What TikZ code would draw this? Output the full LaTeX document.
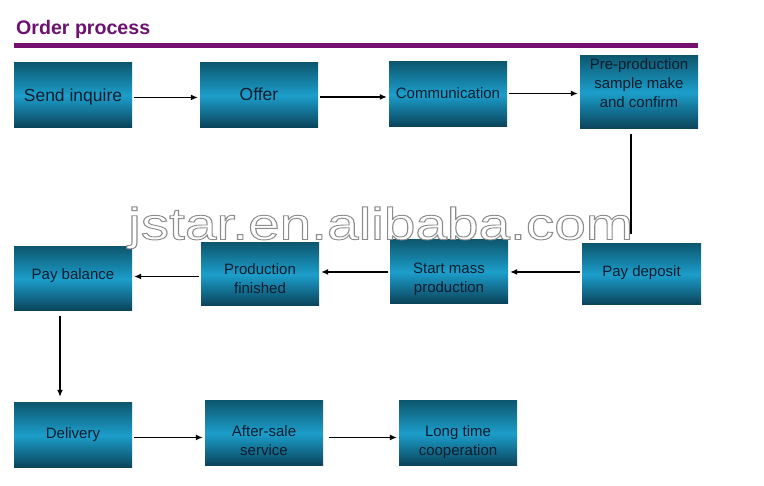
\documentclass[tikz,border=0pt]{standalone}
\usepackage{fontspec}
\setmainfont{Liberation Sans}
\usepackage{graphicx}
\usetikzlibrary{arrows.meta}

\definecolor{boxtop}{HTML}{0D5870}
\definecolor{boxmid}{HTML}{1C9ECB}
\definecolor{boxbot}{HTML}{0A4258}
\definecolor{ttl}{HTML}{6C1170}
\definecolor{rulec}{HTML}{74106F}
\definecolor{txtc}{HTML}{0E1C2C}

\newcommand{\mlines}[1]{\begin{tabular}[t]{@{}c@{}}#1\end{tabular}}

\begin{document}
\begin{tikzpicture}[x=1pt,y=1pt,
  box/.style={minimum width=118pt, minimum height=65pt, inner sep=0pt, draw=none,
    top color=boxtop, bottom color=boxbot, middle color=boxmid},
  txt/.style={anchor=base, inner sep=0pt, text=txtc, font=\fontsize{15}{19}\selectfont},
  bigtxt/.style={txt, font=\fontsize{17.5}{21}\selectfont},
  conn/.style={line width=1.2pt, black, shorten <=2pt, shorten >=2pt},
  arr/.style={conn, -{Latex[length=7pt,width=6pt]}},
]
\useasboundingbox (0,0) rectangle (764,486);
\fill[white] (0,0) rectangle (764,486);

% title and rule
\node[anchor=base west, inner sep=0pt, text=ttl, font=\fontsize{19.6}{24}\selectfont\bfseries] (title) at (16,451.7) {Order process};
\draw[rulec, line width=4.5pt] (14,440.5) -- (698,440.5);

% row 1
\node[box] (si) at (73,390.5) {};
\node[bigtxt] (si-t) at ([yshift=-6.2pt]si.center) {Send inquire};
\node[box] (of) at (259,390.5) {};
\node[bigtxt] (of-t) at ([yshift=-5.5pt]of.center) {Offer};
\node[box] (co) at (448,391.5) {};
\node[txt] (co-t) at ([yshift=-4.5pt]co.center) {Communication};
\node[box, minimum height=73pt] (pp) at (639,393.5) {};
\node[txt] (pp-t) at ([yshift=23.2pt]pp.center) {\mlines{Pre-production\\sample make\\and confirm}};

% row 2
\node[box, minimum width=119pt, minimum height=61pt] (pd) at (641.5,211.5) {};
\node[txt] (pd-t) at ([yshift=-2.2pt]pd.center) {Pay deposit};
\node[box, minimum height=64pt] (sm) at (449,214) {};
\node[txt] (sm-t) at ([yshift=-1.3pt]sm.center) {\mlines{Start mass\\production}};
\node[box, minimum height=63pt] (pf) at (260,211.5) {};
\node[txt] (pf-t) at ([yshift=0.2pt]pf.center) {\mlines{Production\\finished}};
\node[box, minimum height=64pt] (pb) at (73,207) {};
\node[txt] (pb-t) at ([yshift=-0.3pt]pb.center) {Pay balance};

% row 3
\node[box] (de) at (73,50.5) {};
\node[txt] (de-t) at ([yshift=-2.9pt]de.center) {Delivery};
\node[box] (as) at (264,52.5) {};
\node[txt] (as-t) at ([yshift=-3.5pt]as.center) {\mlines{After-sale\\service}};
\node[box] (lt) at (458,52.5) {};
\node[txt] (lt-t) at ([yshift=-3.5pt]lt.center) {\mlines{Long time\\cooperation}};

% connectors
\draw[arr] ([yshift=-2pt]si.east) -- ([yshift=-2pt]of.west);
\draw[arr] ([yshift=-1.5pt]of.east) -- ([yshift=-1.5pt]of.east -| co.west);
\draw[arr] ([yshift=1pt]co.east) -- ([yshift=1pt]co.east -| pp.west);
\draw[conn, shorten <=5pt, shorten >=10pt] ([xshift=-8pt]pp.south) -- ([xshift=-10.5pt]pd.north);
\draw[arr] (pd.west |- sm.east) -- (sm.east);
\draw[arr] (sm.west) -- (sm.west -| pf.east);
\draw[arr] ([yshift=-2pt]pf.west) -- ([yshift=-2pt]pf.west -| pb.east);
\draw[arr, shorten <=5pt, shorten >=6pt] ([xshift=-13pt]pb.south) -- ([xshift=-13pt]pb.south |- de.north);
\draw[arr] ([yshift=-2pt]de.east) -- ([yshift=-2pt]de.east -| as.west);
\draw[arr, shorten <=6pt] ([yshift=-4pt]as.east) -- ([yshift=-4pt]as.east -| lt.west);

% watermark
\node[anchor=base west, inner sep=0pt] (wm) at (128,246.5)
  {\resizebox{505pt}{\height}{\fontsize{45}{45}\selectfont\color{white}\special{pdf:literal direct 0.55 0.55 0.55 RG 2 Tr 0.9 w}jstar.en.alibaba.com\special{pdf:literal direct 0 Tr}}};
\end{tikzpicture}
\end{document}
